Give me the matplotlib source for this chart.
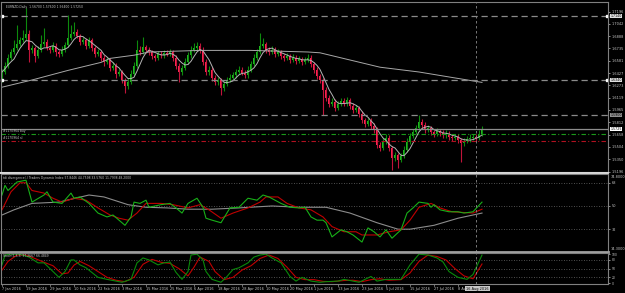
import matplotlib
matplotlib.use("Agg")
import matplotlib.pyplot as plt
import matplotlib.transforms as mtrans
import numpy as np
import pandas as pd

# ---------------- data ----------------
open_ = [1.636,1.644,1.652,1.662,1.669,1.674,1.679,1.684,1.687,1.692,
 1.672,1.674,1.664,1.672,1.679,1.682,1.674,1.672,1.677,1.669,
 1.667,1.672,1.678,1.687,1.692,1.694,1.689,1.682,1.684,1.677,
 1.684,1.674,1.667,1.669,1.662,1.657,1.659,1.649,1.652,1.642,
 1.644,1.634,1.627,1.632,1.642,1.652,1.672,1.669,1.675,1.672,
 1.669,1.664,1.662,1.667,1.665,1.668,1.667,1.669,1.662,1.652,
 1.644,1.649,1.657,1.665,1.672,1.674,1.677,1.672,1.657,1.644,
 1.647,1.637,1.632,1.634,1.624,1.629,1.634,1.637,1.640,1.644,
 1.647,1.643,1.640,1.647,1.654,1.662,1.669,1.677,1.679,1.672,
 1.669,1.672,1.667,1.669,1.664,1.662,1.664,1.659,1.662,1.658,
 1.660,1.657,1.659,1.662,1.654,1.647,1.639,1.634,1.622,1.612,
 1.604,1.607,1.599,1.604,1.608,1.605,1.609,1.602,1.597,1.599,
 1.592,1.584,1.579,1.583,1.577,1.572,1.553,1.549,1.557,1.562,
 1.549,1.537,1.540,1.534,1.539,1.547,1.557,1.564,1.569,1.574,
 1.582,1.578,1.572,1.574,1.569,1.567,1.570,1.568,1.565,1.567,
 1.563,1.562,1.563,1.559,1.555,1.558,1.560,1.562,1.563,1.562,
 1.567]
high = [1.648,1.656,1.666,1.673,1.684,1.703,1.688,1.696,1.724,1.696,
 1.678,1.677,1.676,1.690,1.699,1.685,1.677,1.681,1.680,1.672,
 1.676,1.682,1.715,1.703,1.707,1.698,1.692,1.688,1.687,1.688,
 1.687,1.677,1.673,1.672,1.665,1.663,1.662,1.656,1.655,1.648,
 1.647,1.637,1.636,1.646,1.656,1.684,1.676,1.688,1.678,1.675,
 1.672,1.667,1.670,1.670,1.671,1.671,1.673,1.672,1.665,1.655,
 1.653,1.661,1.669,1.676,1.680,1.681,1.680,1.675,1.660,1.651,
 1.650,1.640,1.638,1.637,1.633,1.638,1.641,1.644,1.648,1.651,
 1.650,1.646,1.651,1.658,1.666,1.673,1.693,1.687,1.682,1.675,
 1.676,1.675,1.673,1.672,1.667,1.668,1.667,1.666,1.665,1.664,
 1.663,1.663,1.666,1.665,1.657,1.650,1.642,1.637,1.625,1.615,
 1.611,1.610,1.608,1.612,1.611,1.613,1.612,1.605,1.603,1.602,
 1.595,1.587,1.587,1.586,1.580,1.575,1.556,1.561,1.566,1.565,
 1.552,1.544,1.543,1.543,1.551,1.561,1.568,1.573,1.578,1.590,
 1.585,1.581,1.578,1.577,1.572,1.574,1.573,1.571,1.571,1.570,
 1.566,1.567,1.566,1.562,1.562,1.564,1.566,1.567,1.566,1.571,
 1.576]
low = [1.632,1.641,1.649,1.659,1.666,1.671,1.676,1.681,1.684,1.657,
 1.668,1.657,1.661,1.669,1.676,1.671,1.668,1.669,1.664,1.663,
 1.664,1.669,1.675,1.684,1.689,1.686,1.678,1.679,1.673,1.674,
 1.670,1.663,1.664,1.658,1.652,1.654,1.645,1.646,1.637,1.639,
 1.630,1.618,1.623,1.629,1.639,1.649,1.665,1.666,1.668,1.665,
 1.660,1.658,1.659,1.662,1.662,1.664,1.664,1.658,1.648,1.632,
 1.640,1.646,1.654,1.662,1.669,1.671,1.668,1.653,1.640,1.640,
 1.633,1.628,1.628,1.615,1.620,1.626,1.631,1.634,1.637,1.641,
 1.640,1.636,1.637,1.644,1.651,1.659,1.666,1.674,1.668,1.665,
 1.666,1.663,1.664,1.660,1.658,1.659,1.655,1.656,1.654,1.655,
 1.653,1.654,1.656,1.650,1.643,1.635,1.630,1.590,1.608,1.600,
 1.601,1.595,1.596,1.601,1.601,1.602,1.598,1.593,1.594,1.588,
 1.580,1.575,1.576,1.573,1.568,1.549,1.545,1.546,1.554,1.545,
 1.522,1.533,1.524,1.531,1.536,1.544,1.554,1.561,1.566,1.571,
 1.574,1.568,1.569,1.565,1.563,1.564,1.564,1.561,1.562,1.559,
 1.558,1.559,1.555,1.531,1.552,1.555,1.557,1.559,1.558,1.559,
 1.564]
close = [1.644,1.652,1.662,1.669,1.674,1.679,1.684,1.687,1.692,1.672,
 1.674,1.664,1.672,1.679,1.682,1.674,1.672,1.677,1.669,1.667,
 1.672,1.678,1.687,1.692,1.694,1.689,1.682,1.684,1.677,1.684,
 1.674,1.667,1.669,1.662,1.657,1.659,1.649,1.652,1.642,1.644,
 1.634,1.627,1.632,1.642,1.652,1.672,1.669,1.675,1.672,1.669,
 1.664,1.662,1.667,1.665,1.668,1.667,1.669,1.662,1.652,1.644,
 1.649,1.657,1.665,1.672,1.674,1.677,1.672,1.657,1.644,1.647,
 1.637,1.632,1.634,1.624,1.629,1.634,1.637,1.640,1.644,1.647,
 1.643,1.640,1.647,1.654,1.662,1.669,1.677,1.679,1.672,1.669,
 1.672,1.667,1.669,1.664,1.662,1.664,1.659,1.662,1.658,1.660,
 1.657,1.659,1.662,1.654,1.647,1.639,1.634,1.622,1.612,1.604,
 1.607,1.599,1.604,1.608,1.605,1.609,1.602,1.597,1.599,1.592,
 1.584,1.579,1.583,1.577,1.572,1.553,1.549,1.557,1.562,1.549,
 1.537,1.540,1.534,1.539,1.547,1.557,1.564,1.569,1.574,1.582,
 1.578,1.572,1.574,1.569,1.567,1.570,1.568,1.565,1.567,1.563,
 1.562,1.563,1.559,1.555,1.558,1.560,1.562,1.563,1.562,1.567,
 1.5725]

slow_ma_bar = [0, 10, 22, 33, 36, 44, 49, 66, 83, 102, 106, 126, 139, 160]
slow_ma_val = [1.625, 1.634, 1.646, 1.656, 1.661, 1.665, 1.669, 1.671, 1.671,
               1.669, 1.668, 1.650, 1.644, 1.631]

hlines_dashed = [1.7140, 1.6340, 1.5900]
order_buy = 1.5665
order_sl = 1.5578
price_ticks = [1.7196, 1.7042, 1.6888, 1.6735, 1.6581, 1.6427, 1.6273,
               1.6119, 1.5965, 1.5812, 1.5658, 1.5504, 1.5350, 1.5196]

tdi_green_bar = [0,1,2,5,8,10,14,15,17,20,23,24,26,29,32,35,37,41,43,44,46,48,49,53,56,58,60,62,65,67,68,70,73,76,79,82,85,87,89,93,96,99,101,103,105,107,108,110,113,115,117,120,122,124,126,128,130,133,135,137,139,142,143,144,146,149,152,154,157,160]
tdi_green_val = [58.5,66,62,68.6,70,53,58.5,61,53,52,60,56,57,52,44.5,41.5,43,35,41.5,53,52,54.5,49,51,52,48.5,44.5,52,56,49,40.5,39,37,48.5,49,56,54.5,58.5,57,52,49,48.5,49,41.5,39,39,37,26,31.5,30,27.5,22,33,30,26,31.5,25,31.5,44.5,48.5,53,52,49,51,47,45.5,45.5,44.5,45.5,53]
tdi_red_bar = [0,3,6,8,10,14,17,20,24,28,32,36,39,42,45,48,53,57,62,66,69,73,77,82,86,88,92,95,99,103,107,110,114,118,120,125,129,133,136,139,143,146,150,157,160]
tdi_red_val = [47,61,68,68,62,60,56,53,56,54.5,48.5,43,40.5,39,44.5,52,52,51,48.5,51,47,40.5,44.5,48.5,53,57,57,52,48.5,47,41.5,34,30,30,27.5,27.5,30,31.5,39,49,52,48.5,45.5,44.5,47.5]
tdi_base_bar = [0,4,10,19,29,34,42,48,55,62,70,79,90,99,108,116,125,132,136,144,152,160]
tdi_base_val = [43,47,52,53,58.5,57,51,49,48.5,47.5,47.5,48.5,50,49,49,44.5,37,32,32,35,40.5,44.5]
tdi_levels = [68, 50, 32]

stoch_k_bar = [0,1,3,6,9,12,14,17,19,21,23,24,26,28,32,35,38,40,43,45,47,49,52,54,56,58,60,62,63,65,67,68,70,73,75,77,79,82,84,86,88,90,93,96,98,100,103,106,108,112,114,117,119,123,125,128,133,136,139,142,145,147,149,152,155,157,160]
stoch_k_val = [63,97,100,100,90,70,70,40,20,40,80,80,63,53,20,13,7,3,13,70,87,80,63,70,73,37,13,40,97,100,80,40,13,3,23,47,53,70,90,97,100,87,70,23,7,20,7,3,5,7,13,7,3,23,7,13,13,63,100,97,87,73,40,20,13,30,97]
stoch_d_bar = [0,2,5,8,11,14,17,20,22,24,26,29,32,35,38,41,44,47,50,53,56,59,62,64,66,69,71,74,77,80,83,86,89,92,95,98,101,104,107,110,114,117,120,123,126,129,133,136,139,142,145,148,151,154,157,160]
stoch_d_val = [45,75,97,97,85,72,60,32,35,62,75,60,40,20,10,5,20,65,82,72,68,50,25,55,90,75,40,12,20,45,60,85,97,85,55,20,12,12,6,5,9,10,5,12,15,10,12,35,75,97,92,80,50,25,15,66]
stoch_levels = [80, 50, 20]

date_bars = [0,8,16,24,32,40,48,56,64,72,80,88,96,104,112,120,128,136,144,152]
date_labels = ["7 Jan 2016","19 Jan 2016","29 Jan 2016","10 Feb 2016","22 Feb 2016",
               "3 Mar 2016","15 Mar 2016","25 Mar 2016","6 Apr 2016","18 Apr 2016",
               "28 Apr 2016","10 May 2016","20 May 2016","1 Jun 2016","13 Jun 2016",
               "23 Jun 2016","5 Jul 2016","15 Jul 2016","27 Jul 2016","8 Aug 2016"]
vline_bar = 158
vline_label = "16 Aug 2016"

# ---------------- figure ----------------
plt.rcParams['font.family'] = ['DejaVu Sans']
W, H = 625, 293
fig = plt.figure(figsize=(W / 100, H / 100), dpi=100, facecolor='black')

def add(x0, y0, x1, y1):
    a = fig.add_axes([x0 / W, 1 - y1 / H, (x1 - x0) / W, (y1 - y0) / H])
    a.set_facecolor('black')
    for s in a.spines.values():
        s.set_color('#808080')
        s.set_linewidth(0.8)
    a.set_xlim(-0.33, 202)
    a.tick_params(axis='x', which='both', bottom=False, labelbottom=False)
    return a

ax = add(1, 2, 608, 173)
ax2 = add(1, 174, 608, 252)
ax3 = add(1, 253, 608, 284)
ax.spines['bottom'].set_color('#d8d8d8'); ax.spines['bottom'].set_linewidth(1.5)
ax2.spines['bottom'].set_color('#a0a0a0'); ax2.spines['bottom'].set_linewidth(2)

TXT = '#c8c8c8'
FS_T = 2.2     # titles
FS_AX = 2.5    # right axis labels
FS_D = 2.5     # date labels

# --- main panel ---
o = np.array(open_); h = np.array(high); l = np.array(low); c = np.array(close)
x = np.arange(len(c))
up = c >= o
ax.vlines(x[up], l[up], h[up], color='#0d8a0d', lw=0.8)
ax.vlines(x[~up], l[~up], h[~up], color='#c0143a', lw=0.8)
ax.bar(x[up], np.maximum(c - o, 0.0007)[up], bottom=o[up], width=0.65, color='#22b822', lw=0)
ax.bar(x[~up], np.maximum(o - c, 0.0007)[~up], bottom=c[~up], width=0.65, color='#ff2452', lw=0)

fast_ma = pd.Series(close).rolling(5, min_periods=1).mean()
ax.plot(x, fast_ma, color='#b4b4b4', lw=0.7)
ax.plot(slow_ma_bar, slow_ma_val, color='#a8a8a8', lw=0.7)

ax.set_ylim(1.51775, 1.7315)
for lv in hlines_dashed:
    ax.axhline(lv, color='#8a8a8a', lw=0.9, ls=(0, (5, 3)))
for lv in hlines_dashed[:2]:
    ax.plot([0.0, 201.6], [lv, lv], ls='none', marker='s', ms=1.6, color='white', clip_on=False)
ax.axhline(close[-1], color='#8c8c8c', lw=0.9)
ax.axhline(order_buy, color='#1a9a1a', lw=0.8, ls=(0, (4, 2, 1, 2)))
ax.axhline(order_sl, color='#b01020', lw=0.8, ls=(0, (4, 2, 1, 2)))
ax.text(0.5, order_buy + 0.0010, "#1170964 buy", color=TXT, fontsize=FS_T, va='bottom', ha='left')
ax.text(0.5, order_sl + 0.0010, "#1170964 sl", color=TXT, fontsize=FS_T, va='bottom', ha='left')

ax.yaxis.tick_right()
ax.set_yticks(price_ticks)
ax.set_yticklabels([f"{v:.4f}" for v in price_ticks])
ax.tick_params(axis='y', labelsize=FS_AX, colors=TXT, length=1.5, width=0.5, pad=1)

tr_main = mtrans.blended_transform_factory(ax.transAxes, ax.transData)
for lv, fc in [(hlines_dashed[0], '#e0e0e0'), (hlines_dashed[1], '#e0e0e0'),
               (hlines_dashed[2], '#909090'), (close[-1], '#ffffff')]:
    ax.text(1.004, lv, f"{lv:.4f}", transform=tr_main, fontsize=FS_AX - 0.2, color='black',
            va='center', ha='left', clip_on=False,
            bbox=dict(boxstyle='square,pad=0.05', fc=fc, ec='none'))

title = f"EURNZD,Daily  {open_[-1]:.5f} {high[-1]:.5f} {low[-1]:.5f} {close[-1]:.5f}"
ax.text(0.008, 0.985, title, transform=ax.transAxes, color=TXT, fontsize=FS_T, va='top', ha='left')

# --- TDI panel ---
ax2.set_ylim(14.3, 74.8)
for lv in tdi_levels:
    ax2.axhline(lv, color='#6a6a6a', lw=0.6, ls=(0, (1, 2)))
ax2.plot(tdi_base_bar, tdi_base_val, color='#8c8c8c', lw=0.8)
ax2.plot(tdi_red_bar, tdi_red_val, color='#c00000', lw=0.8)
ax2.plot(tdi_green_bar, tdi_green_val, color='#18b018', lw=0.8)
ax2.yaxis.tick_right()
ax2.set_yticks(tdi_levels)
ax2.set_yticklabels([str(v) for v in tdi_levels])
ax2.tick_params(axis='y', labelsize=FS_AX, colors=TXT, length=1.5, width=0.5, pad=1)
ax2.text(1.004, 0.99, "74.8000", transform=ax2.transAxes, fontsize=FS_AX, color=TXT, va='top', ha='left')
ax2.text(1.004, 0.01, "14.3000", transform=ax2.transAxes, fontsize=FS_AX, color=TXT, va='bottom', ha='left')
ax2.text(0.004, 0.97, "tdi divergence(.) Traders Dynamic Index 57.8446 44.7598 33.5760 11.7938 48.2000",
         transform=ax2.transAxes, color=TXT, fontsize=FS_T, va='top', ha='left')

# --- Stochastic panel ---
ax3.set_ylim(-3, 104)
for lv in stoch_levels:
    ax3.axhline(lv, color='#6a6a6a', lw=0.6, ls=(0, (1, 2)))
ax3.plot(stoch_d_bar, stoch_d_val, color='#c00000', lw=0.8)
ax3.plot(stoch_k_bar, stoch_k_val, color='#0a8a0a', lw=0.8)
ax3.yaxis.tick_right()
ax3.set_yticks([100, 80, 50, 20, 0])
ax3.set_yticklabels(["100", "80", "50", "20", "0"])
ax3.tick_params(axis='y', labelsize=FS_T, colors=TXT, length=1.5, width=0.5, pad=1)
ax3.text(0.004, 0.97, "Stoch(5,3,3) 97.2667 66.4849", transform=ax3.transAxes,
         color=TXT, fontsize=FS_T, va='top', ha='left')

# date axis
tr_d = mtrans.blended_transform_factory(ax3.transData, ax3.transAxes)
for b, lab in zip(date_bars, date_labels):
    ax3.text(b, -0.15, lab, transform=tr_d, color=TXT, fontsize=FS_D, va='center', ha='left', clip_on=False)
    ax3.plot([b, b], [0, -0.06], transform=tr_d, color='#a0a0a0', lw=0.5, clip_on=False)
ax3.text(vline_bar + 0.5, -0.15, vline_label, transform=tr_d, color='black', fontsize=FS_D,
         va='center', ha='center', clip_on=False, zorder=5,
         bbox=dict(boxstyle='square,pad=0.2', fc='#c8c8c8', ec='none'))

for a in (ax, ax2, ax3):
    a.axvline(vline_bar, color='#8a8a8a', lw=0.6, ls=(0, (3, 3)))

fig.savefig("out.png", dpi=100, facecolor='black')
